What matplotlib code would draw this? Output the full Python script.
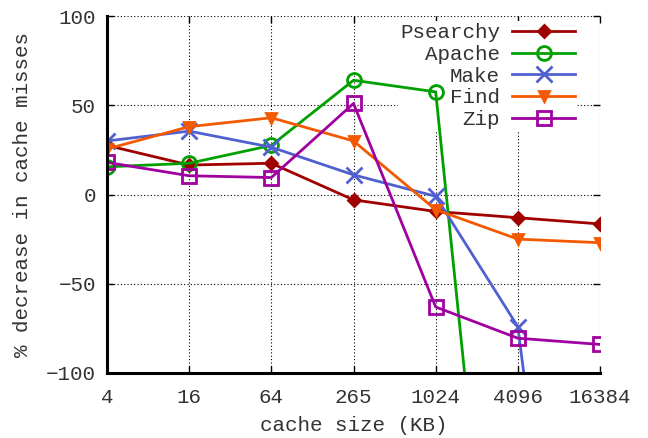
import matplotlib
matplotlib.use("Agg")
import matplotlib.pyplot as plt

categories = ['4', '16', '64', '265', '1024', '4096', '16384']
psearchy = [27.5, 16.5, 17.5, -3, -9.5, -13, -16.5]
apache = [15.5, 17.5, 27.5, 64, 57.5, -390, -400]
make = [30, 35.5, 26.5, 11, -1, -74, -435]
find = [25.5, 38, 43, 30, -8.5, -25, -27]
zipv = [18, 10.5, 9.5, 51, -63, -80.5, -84]

series = [
    ('Psearchy', psearchy, '#a00000', 'D', True, 6.5),
    ('Apache', apache, '#00a000', 'o', False, 10),
    ('Make', make, '#5060d0', 'x', False, 11),
    ('Find', find, '#f25900', 'v', True, 7),
    ('Zip', zipv, '#a000a0', 's', False, 10),
]

plt.rcParams['font.family'] = ['Liberation Mono', 'DejaVu Sans Mono']
plt.rcParams['font.size'] = 15

fig = plt.figure(figsize=(6.48, 4.38), dpi=100)
ax = fig.add_axes([107/648, (438-373)/438, (600-107)/648, (373-16)/438])

x = list(range(len(categories)))
for name, vals, col, mk, filled, ms in series:
    ax.plot(x, vals, color=col, lw=2, marker=mk, ms=ms,
            markerfacecolor=col if filled else 'none',
            markeredgecolor=col, markeredgewidth=2, label=name,
            clip_on=True, zorder=3)

ax.set_xlim(0, len(categories) - 1)
ax.set_ylim(-100, 100)
ax.set_xticks(x)
ax.set_xticklabels(categories)
ax.set_yticks([-100, -50, 0, 50, 100])
ax.set_yticklabels(['\u2212100', '\u221250', '0', '50', '100'])
ax.set_xlabel('cache size (KB)', color='#333333', labelpad=6)
ax.set_ylabel('% decrease in cache misses', color='#333333')
ax.yaxis.set_label_coords(-0.152, 0.5)

ax.grid(True, color='black', linestyle=(0, (1, 2)), linewidth=0.8, zorder=0.5)
ax.set_axisbelow(True)
for s in ['top', 'right']:
    ax.spines[s].set_visible(False)
for s in ['left', 'bottom']:
    ax.spines[s].set_linewidth(2.2)
    ax.spines[s].set_zorder(4)
ax.tick_params(direction='in', length=5, width=1, top=True, right=True,
               labelcolor='#333333')
ax.tick_params(axis='x', pad=11)
ax.tick_params(axis='y', pad=8)

leg = ax.legend(loc='upper right', bbox_to_anchor=(577/648, (438-21)/438),
                bbox_transform=fig.transFigure, markerfirst=False,
                frameon=True, framealpha=1, edgecolor='none', facecolor='white',
                fancybox=False, handlelength=3.0, handletextpad=0.6,
                labelspacing=0.13, borderpad=0.1, borderaxespad=0)
leg.set_zorder(1.5)
for t in leg.get_texts():
    t.set_color('#333333')

fig.savefig('out.png', dpi=100)
